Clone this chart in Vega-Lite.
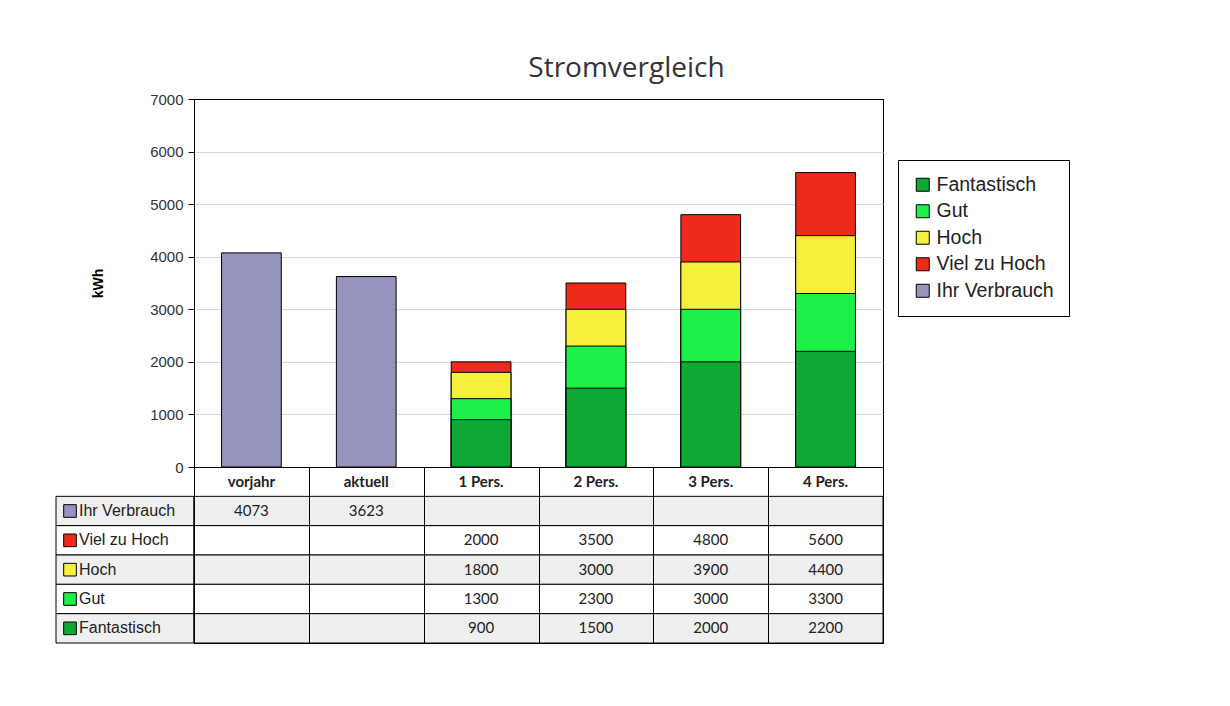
{
  "$schema": "https://vega.github.io/schema/vega-lite/v6.json",
  "padding": {"left": 55, "top": 54, "right": 0, "bottom": 0},
  "background": "white",
  "title": {"text": "Stromvergleich", "fontSize": 28, "font": "Open Sans", "fontWeight": "normal", "color": "#333", "anchor": "middle", "dx": 64, "offset": 9},
  "datasets": {
    "verbrauch": [
      {"cat": "vorjahr", "series": "Ihr Verbrauch", "kwh": 4073},
      {"cat": "aktuell", "series": "Ihr Verbrauch", "kwh": 3623},
      {"cat": "1 Pers.", "series": "Viel zu Hoch", "kwh": 2000},
      {"cat": "2 Pers.", "series": "Viel zu Hoch", "kwh": 3500},
      {"cat": "3 Pers.", "series": "Viel zu Hoch", "kwh": 4800},
      {"cat": "4 Pers.", "series": "Viel zu Hoch", "kwh": 5600},
      {"cat": "1 Pers.", "series": "Hoch", "kwh": 1800},
      {"cat": "2 Pers.", "series": "Hoch", "kwh": 3000},
      {"cat": "3 Pers.", "series": "Hoch", "kwh": 3900},
      {"cat": "4 Pers.", "series": "Hoch", "kwh": 4400},
      {"cat": "1 Pers.", "series": "Gut", "kwh": 1300},
      {"cat": "2 Pers.", "series": "Gut", "kwh": 2300},
      {"cat": "3 Pers.", "series": "Gut", "kwh": 3000},
      {"cat": "4 Pers.", "series": "Gut", "kwh": 3300},
      {"cat": "1 Pers.", "series": "Fantastisch", "kwh": 900},
      {"cat": "2 Pers.", "series": "Fantastisch", "kwh": 1500},
      {"cat": "3 Pers.", "series": "Fantastisch", "kwh": 2000},
      {"cat": "4 Pers.", "series": "Fantastisch", "kwh": 2200}
    ],
    "rows": [
      {"series": "Ihr Verbrauch"},
      {"series": "Viel zu Hoch"},
      {"series": "Hoch"},
      {"series": "Gut"},
      {"series": "Fantastisch"}
    ]
  },
  "columns": 2,
  "spacing": 0,
  "bounds": "flush",
  "concat": [
    {
      "width": 138, "height": 368,
      "view": {"stroke": null},
      "data": {"values": [{}]},
      "mark": {"type": "text", "text": ""},
      "encoding": {}
    },
    {
      "width": 689, "height": 368,
      "view": {"stroke": "black", "strokeWidth": 1},
      "data": {"name": "verbrauch"},
      "mark": {"type": "bar", "stroke": "black", "strokeWidth": 1, "width": {"band": 0.52}},
      "encoding": {
        "x": {"field": "cat", "type": "nominal", "sort": ["vorjahr", "aktuell", "1 Pers.", "2 Pers.", "3 Pers.", "4 Pers."],
              "scale": {"paddingInner": 0, "paddingOuter": 0},
              "axis": {"title": null, "labelAngle": 0, "labelFont": "Lato", "labelFontWeight": "bold", "labelFontSize": 15, "labelColor": "#222", "ticks": false, "domain": false, "labelPadding": 7}},
        "y": {"field": "kwh", "type": "quantitative", "stack": null,
              "scale": {"domain": [0, 7000]},
              "axis": {"values": [0, 1000, 2000, 3000, 4000, 5000, 6000, 7000], "format": "d", "title": "kWh", "titleFont": "Liberation Sans", "titleFontSize": 14, "titleFontWeight": "bold", "titleColor": "black", "titlePadding": 44,
                       "labelFont": "Liberation Sans", "labelFontSize": 15, "labelColor": "#333", "labelPadding": 5, "tickColor": "black", "tickSize": 6, "domain": true, "domainColor": "black", "grid": true,
                       "gridColor": {"condition": {"test": "datum.value === 7000 || datum.value === 0", "value": "black"}, "value": "#d8d8d8"}}},
        "color": {"field": "series", "type": "nominal",
                  "scale": {"domain": ["Fantastisch", "Gut", "Hoch", "Viel zu Hoch", "Ihr Verbrauch"], "range": ["#10a834", "#1ef04a", "#f6ef3c", "#ee2b1b", "#9494bd"]},
                  "legend": {"orient": "none", "legendX": 842, "legendY": 61, "title": null, "strokeColor": "black", "fillColor": "white", "padding": 15,
                             "labelFont": "Liberation Sans", "labelFontSize": 19.5, "labelColor": "#222", "symbolType": "square", "symbolSize": 169,
                             "symbolStrokeColor": "black", "symbolStrokeWidth": 1, "symbolOpacity": 1, "rowPadding": 5.5}}
      }
    },
    {
      "width": 138, "height": 176,
      "view": {"stroke": null},
      "data": {"name": "rows"},
      "encoding": {
        "y": {"field": "series", "type": "nominal",
              "scale": {"domain": ["header", "Ihr Verbrauch", "Viel zu Hoch", "Hoch", "Gut", "Fantastisch"], "paddingInner": 0, "paddingOuter": 0},
              "axis": null}
      },
      "layer": [
        {"mark": {"type": "rect", "stroke": "black", "strokeWidth": 1},
         "encoding": {"fill": {"field": "series", "type": "nominal", "scale": {"domain": ["Ihr Verbrauch", "Viel zu Hoch", "Hoch", "Gut", "Fantastisch"], "range": ["#efefef", "white", "#efefef", "white", "#efefef"]}, "legend": null}}},
        {"mark": {"type": "point", "shape": "square", "size": 160, "filled": true, "stroke": "black", "strokeWidth": 1, "opacity": 1},
         "encoding": {"x": {"value": 14}, "color": {"field": "series", "type": "nominal"}}},
        {"mark": {"type": "text", "align": "left", "font": "Liberation Sans", "fontSize": 16, "color": "#222"},
         "encoding": {"x": {"value": 23}, "text": {"field": "series"}}}
      ]
    },
    {
      "width": 689, "height": 176,
      "view": {"stroke": "black", "strokeWidth": 1},
      "layer": [
        {"data": {"name": "rows"},
         "mark": {"type": "rect", "stroke": "black", "strokeWidth": 1},
         "encoding": {
           "y": {"field": "series", "type": "nominal",
                 "scale": {"domain": ["header", "Ihr Verbrauch", "Viel zu Hoch", "Hoch", "Gut", "Fantastisch"], "paddingInner": 0, "paddingOuter": 0},
                 "axis": null},
           "fill": {"field": "series", "type": "nominal", "legend": null}
         }},
        {"data": {"name": "verbrauch"},
         "mark": {"type": "text", "font": "Lato", "fontSize": 15, "color": "#222"},
         "encoding": {
           "x": {"field": "cat", "type": "nominal", "sort": ["vorjahr", "aktuell", "1 Pers.", "2 Pers.", "3 Pers.", "4 Pers."],
                 "scale": {"paddingInner": 0, "paddingOuter": 0},
                 "axis": {"title": null, "labels": false, "ticks": false, "domain": false, "grid": true, "gridColor": "black", "gridOpacity": 1, "tickBand": "extent", "zindex": 1}},
           "y": {"field": "series", "type": "nominal"},
           "text": {"field": "kwh", "type": "quantitative", "format": "d"}
         }}
      ]
    }
  ]
}
